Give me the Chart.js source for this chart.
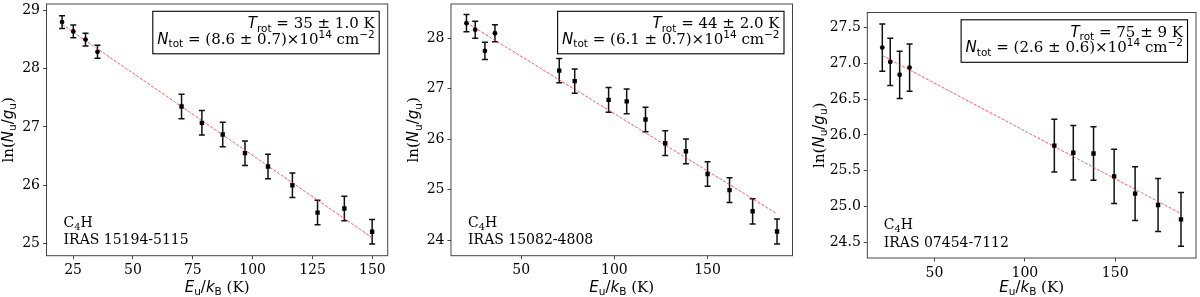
<!DOCTYPE html>
<html>
<head>
<meta charset="utf-8">
<script src="https://cdn.jsdelivr.net/npm/chart.js@4.4.1/dist/chart.umd.min.js"></script>
<style>
body{margin:0;background:#fff;width:1200px;height:297px;position:relative;overflow:hidden}
canvas{position:absolute;top:0}
</style>
</head>
<body>
<canvas id="c1" width="400" height="297" style="left:0"></canvas>
<canvas id="c2" width="400" height="297" style="left:400px"></canvas>
<canvas id="c3" width="400" height="297" style="left:800px"></canvas>
<script>
// IRAS 15194-5115
var e1 = [20.4, 25.1, 30.2, 35.2, 70.3, 78.8, 87.5, 96.8, 106.4, 116.6, 127.1, 138.3, 149.9];
var y1 = [28.80, 28.64, 28.50, 28.29, 27.35, 27.07, 26.87, 26.55, 26.32, 26.00, 25.53, 25.60, 25.20];
var err1 = [0.11, 0.11, 0.11, 0.11, 0.21, 0.21, 0.21, 0.21, 0.21, 0.21, 0.21, 0.21, 0.21];
var fitX1 = [20.4, 149.9], fitY1 = [28.76, 25.10];
var xTicks1 = [25, 50, 75, 100, 125, 150], yTicks1 = [25, 26, 27, 28, 29];

// IRAS 15082-4808
var e2 = [20.6, 25.3, 30.5, 35.9, 70.4, 78.7, 96.9, 106.6, 116.7, 127.3, 138.4, 150.0, 161.8, 174.2, 187.3];
var y2 = [28.30, 28.17, 27.75, 28.10, 27.36, 27.15, 26.78, 26.75, 26.39, 25.92, 25.76, 25.31, 24.99, 24.57, 24.17];
var err2 = [0.17, 0.17, 0.17, 0.17, 0.24, 0.24, 0.245, 0.245, 0.245, 0.245, 0.245, 0.245, 0.245, 0.25, 0.25];
var fitX2 = [20.6, 187.3], fitY2 = [28.31, 24.52];
var xTicks2 = [50, 100, 150], yTicks2 = [24, 25, 26, 27, 28];

// IRAS 07454-7112
var e3 = [21.1, 25.5, 30.7, 36.2, 116.3, 126.8, 138.0, 149.4, 161.0, 173.7, 186.4];
var y3 = [27.22, 27.02, 26.84, 26.94, 25.85, 25.75, 25.74, 25.42, 25.18, 25.02, 24.82];
var err3 = [0.33, 0.33, 0.33, 0.33, 0.37, 0.38, 0.375, 0.38, 0.375, 0.37, 0.375];
var fitX3 = [21.1, 186.4], fitY3 = [27.11, 24.90];
var xTicks3 = [50, 100, 150], yTicks3 = [24.5, 25.0, 25.5, 26.0, 26.5, 27.0, 27.5];

var nCirc = 4; // first lines drawn as circles, rest squares

// mixed-font text (mathtext-ish)
function pfont(p, fs){
    var size = fs * (p[2] || 1);
    var fam = p[1] == 'r' ? "'DejaVu Serif'" : "'DejaVu Sans'";
    return (p[1] == 'si' ? 'italic ' : '') + size + 'px ' + fam;
}
function richWidth(ctx, parts, fs){
    var w = 0;
    parts.forEach(function(p){ ctx.font = pfont(p, fs); w += ctx.measureText(p[0]).width; });
    return w;
}
function drawRich(ctx, parts, x, y, fs, align){
    var w = richWidth(ctx, parts, fs);
    var cx = align == 'right' ? x - w : align == 'center' ? x - w / 2 : x;
    ctx.textBaseline = 'alphabetic';
    ctx.textAlign = 'left';
    parts.forEach(function(p){
        ctx.font = pfont(p, fs);
        ctx.fillText(p[0], cx, y + (p[3] || 0) * fs);
        cx += ctx.measureText(p[0]).width;
    });
    return w;
}
var SUB = 0.7;

var rotPlugin = {
    id: 'rot',
    beforeDatasetsDraw: function(chart, args, o){
        var ctx = chart.ctx, xs = chart.scales.x, ys = chart.scales.y;
        ctx.save();
        ctx.strokeStyle = '#111';
        ctx.lineWidth = 1.5;
        o.e.forEach(function(e, i){
            var px = xs.getPixelForValue(e);
            var top = ys.getPixelForValue(o.y[i] + o.err[i]);
            var bot = ys.getPixelForValue(o.y[i] - o.err[i]);
            ctx.beginPath();
            ctx.moveTo(px, top); ctx.lineTo(px, bot);
            ctx.moveTo(px - 3, top); ctx.lineTo(px + 3, top);
            ctx.moveTo(px - 3, bot); ctx.lineTo(px + 3, bot);
            ctx.stroke();
        });
        ctx.restore();
    },
    afterDraw: function(chart, args, o){
        var ctx = chart.ctx, a = chart.chartArea;
        ctx.save();
        // spines
        ctx.strokeStyle = '#444';
        ctx.lineWidth = 1;
        ctx.strokeRect(a.left, a.top, a.right - a.left, a.bottom - a.top);
        ctx.fillStyle = '#000';
        // axis titles
        drawRich(ctx, [['E', 'si'], ['u', 's', SUB, 0.22], ['/', 's'], ['k', 'si'], ['B', 's', SUB, 0.22], [' (K)', 'r']],
            (a.left + a.right) / 2, 292, 15, 'center');
        ctx.save();
        ctx.translate(o.yTitleX, (a.top + a.bottom) / 2);
        ctx.rotate(-Math.PI / 2);
        drawRich(ctx, [['ln(', 'r'], ['N', 'si'], ['u', 's', SUB, 0.22], ['/', 's'], ['g', 'si'], ['u', 's', SUB, 0.22], [')', 'r']],
            0, 5, 15, 'center');
        ctx.restore();
        // fit result box
        var fs = 15;
        var l1 = [['T', 'si'], ['rot', 's', SUB, 0.22], [' = ' + o.trot + ' K', 'r']];
        var l2 = [['N', 'si'], ['tot', 's', SUB, 0.22], [' = (' + o.ntot + ')\u00d710', 'r'], ['14', 's', SUB, -0.42], [' cm', 'r'], ['\u22122', 's', SUB, -0.42]];
        var w = Math.max(richWidth(ctx, l1, fs), richWidth(ctx, l2, fs));
        var bx1 = a.right - 8.5, by = a.top + 7.3, pad = 4.5;
        ctx.fillStyle = '#fff';
        ctx.fillRect(bx1 - w - 2 * pad, by, w + 2 * pad, 42.5);
        ctx.strokeStyle = '#000';
        ctx.lineWidth = 1.1;
        ctx.strokeRect(bx1 - w - 2 * pad, by, w + 2 * pad, 42.5);
        ctx.fillStyle = '#000';
        drawRich(ctx, l1, bx1 - pad, by + 17, fs, 'right');
        drawRich(ctx, l2, bx1 - pad, by + 32.5, fs, 'right');
        // source label
        var sx = a.left + 0.05 * (a.right - a.left);
        drawRich(ctx, [['C', 'r'], ['4', 'r', SUB, 0.22], ['H', 'r']], sx, a.bottom - 29, 14, 'left');
        drawRich(ctx, [[o.source, 'r']], sx, a.bottom - 11.5, 14, 'left');
        ctx.restore();
    }
};

function pts(xs, ys, from, to){
    var out = [];
    for (var i = from; i < to; i++) out.push({x: xs[i], y: ys[i]});
    return out;
}

function makeChart(id, d){
    var axisStyle = {
        grid: {drawOnChartArea: false, drawTicks: true, tickLength: 3.5, color: '#333', lineWidth: 0.9},
        border: {display: false},
        ticks: {font: {family: "'DejaVu Serif'", size: 14}, color: '#000', padding: 3, maxRotation: 0, autoSkip: false}
    };
    return new Chart(document.getElementById(id), {
        type: 'scatter',
        data: {
            datasets: [
                {data: pts(d.e, d.y, 0, nCirc), pointStyle: 'circle', pointRadius: 2.4, backgroundColor: '#000', borderWidth: 0},
                {data: pts(d.e, d.y, nCirc, d.e.length), pointStyle: 'rect', pointRadius: 3.1, backgroundColor: '#000', borderWidth: 0},
                {type: 'line', data: pts(d.fitX, d.fitY, 0, 2), borderColor: 'rgba(255,30,30,0.8)', borderWidth: 0.9,
                 borderDash: [3, 1.5], pointRadius: 0, fill: false}
            ]
        },
        options: {
            responsive: false, animation: false,
            layout: {padding: {top: d.top, right: d.right, left: 0, bottom: 0}},
            plugins: {legend: {display: false}, tooltip: {enabled: false}, rot: d},
            scales: {
                x: Object.assign({}, axisStyle, {
                    type: 'linear', min: d.xr[0], max: d.xr[1],
                    afterBuildTicks: function(s){ s.ticks = d.xTicks.map(function(v){ return {value: v}; }); },
                    afterFit: function(s){ s.height = d.bottom; s.paddingLeft = 0; s.paddingRight = 0; },
                    ticks: Object.assign({}, axisStyle.ticks, {callback: function(v){ return String(v); }})
                }),
                y: Object.assign({}, axisStyle, {
                    type: 'linear', min: d.yr[0], max: d.yr[1],
                    afterBuildTicks: function(s){ s.ticks = d.yTicks.map(function(v){ return {value: v}; }); },
                    afterFit: function(s){ s.width = d.left; s.paddingTop = 0; s.paddingBottom = 0; },
                    ticks: Object.assign({}, axisStyle.ticks, {callback: function(v){ return v.toFixed(d.yDec); }})
                })
            }
        },
        plugins: [rotPlugin]
    });
}

makeChart('c1', {e: e1, y: y1, err: err1, fitX: fitX1, fitY: fitY1, xTicks: xTicks1, yTicks: yTicks1, yDec: 0,
    xr: [13.9, 156.4], yr: [24.79, 29.11], left: 46.5, right: 12.3, top: 3, bottom: 41.3, yTitleX: 8,
    trot: '35 \u00b1 1.0', ntot: '8.6 \u00b1 0.7', source: 'IRAS 15194-5115'});
makeChart('c2', {e: e2, y: y2, err: err2, fitX: fitX2, fitY: fitY2, xTicks: xTicks2, yTicks: yTicks2, yDec: 0,
    xr: [12.3, 195.6], yr: [23.69, 28.68], left: 51, right: 7.5, top: 3.3, bottom: 41.3, yTitleX: 13.3,
    trot: '44 \u00b1 2.0', ntot: '6.1 \u00b1 0.7', source: 'IRAS 15082-4808'});
makeChart('c3', {e: e3, y: y3, err: err3, fitX: fitX3, fitY: fitY3, xTicks: xTicks3, yTicks: yTicks3, yDec: 1,
    xr: [12.8, 194.7], yr: [24.28, 27.71], left: 67.3, right: 3, top: 12.5, bottom: 39, yTitleX: 19,
    trot: '75 \u00b1 9', ntot: '2.6 \u00b1 0.6', source: 'IRAS 07454-7112'});
</script>
</body>
</html>
